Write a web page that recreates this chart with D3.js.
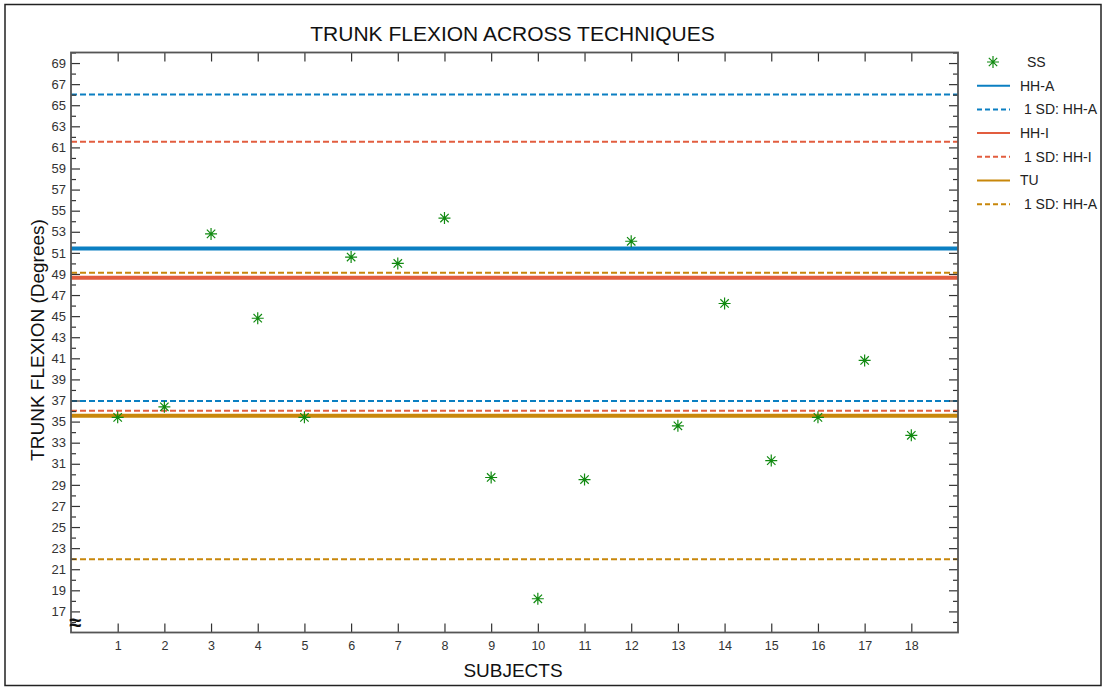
<!DOCTYPE html>
<html>
<head>
<meta charset="utf-8">
<script src="https://cdn.jsdelivr.net/npm/d3@7"></script>
<style>
  html, body { margin: 0; padding: 0; background: #fff; }
  svg { display: block; font-family: "Liberation Sans", Arial, sans-serif; }
  text { white-space: pre; }
</style>
</head>
<body>
<div id="chart"></div>
<script>
// subjects and the SS trunk flexion values (degrees)
const subjects = [1, 2, 3, 4, 5, 6, 7, 8, 9, 10, 11, 12, 13, 14, 15, 16, 17, 18];
const ssValues = [35.4, 36.4, 52.8, 44.8, 35.4, 50.6, 50.0, 54.3, 29.7, 18.2, 29.5, 52.1, 34.6, 46.2, 31.3, 35.4, 40.8, 33.7];

// technique means and +/- 1 SD bands
const techniques = ['HH-A', 'HH-I', 'TU'];
const techMeans = [51.42, 48.64, 35.55];
const techSdUpper = [66.02, 61.53, 49.11];
const techSdLower = [36.95, 36.03, 21.94];
const techColors = ['#0b7fc2', '#e25d3f', '#c8870b'];

const legendLabels = ['SS', 'HH-A', ' 1 SD: HH-A', 'HH-I', ' 1 SD: HH-I', 'TU', ' 1 SD: HH-A'];

const yMajorTicks = [17, 19, 21, 23, 25, 27, 29, 31, 33, 35, 37, 39, 41, 43, 45, 47, 49, 51, 53, 55, 57, 59, 61, 63, 65, 67, 69];
const yMinorTicks = [16, 18, 20, 22, 24, 26, 28, 30, 32, 34, 36, 38, 40, 42, 44, 46, 48, 50, 52, 54, 56, 58, 60, 62, 64, 66, 68, 70];

const width = 1107, height = 689;
const margin = { left: 71, right: 149, top: 52.5, bottom: 56.5 };
const plotW = width - margin.left - margin.right;
const plotH = height - margin.top - margin.bottom;

const svg = d3.select('#chart').append('svg')
  .attr('width', width)
  .attr('height', height);

// outer frame
svg.append('rect')
  .attr('x', 5).attr('y', 4.5)
  .attr('width', 1096).attr('height', 681)
  .attr('fill', 'none')
  .attr('stroke', '#222')
  .attr('stroke-width', 1.5);

const x = d3.scaleLinear().domain([0, 19]).range([0, plotW]);
const y = d3.scaleLinear().domain([15, 70]).range([plotH, 0]);

const g = svg.append('g')
  .attr('transform', `translate(${margin.left},${margin.top})`);

// SD dashed lines
const sdLines = [];
techniques.forEach((t, i) => {
  sdLines.push({ v: techSdUpper[i], c: techColors[i] });
  sdLines.push({ v: techSdLower[i], c: techColors[i] });
});
g.selectAll('.sd')
  .data(sdLines)
  .enter().append('line')
  .attr('class', 'sd')
  .attr('x1', x(0)).attr('x2', x(19))
  .attr('y1', d => y(d.v)).attr('y2', d => y(d.v))
  .attr('stroke', d => d.c)
  .attr('stroke-width', 2)
  .attr('stroke-dasharray', '6,3');

// mean lines
g.selectAll('.mean')
  .data(techniques)
  .enter().append('line')
  .attr('class', 'mean')
  .attr('x1', x(0)).attr('x2', x(19))
  .attr('y1', (d, i) => y(techMeans[i])).attr('y2', (d, i) => y(techMeans[i]))
  .attr('stroke', (d, i) => techColors[i])
  .attr('stroke-width', 4);

// axes
const axisColor = '#555';
function styleAxis(sel) {
  sel.select('.domain').remove();
  sel.attr('font-size', null).attr('font-family', null);
  sel.selectAll('.tick line').attr('stroke', '#333').attr('stroke-width', 1.2);
  sel.selectAll('.tick text').attr('fill', '#333');
}

g.append('g')
  .call(d3.axisLeft(y).tickValues(yMajorTicks).tickSizeInner(-9).tickSizeOuter(0).tickPadding(5))
  .call(styleAxis)
  .selectAll('text').style('font-size', '13px');
g.append('g')
  .call(d3.axisLeft(y).tickValues(yMinorTicks).tickSizeInner(-5).tickSizeOuter(0).tickFormat(''))
  .call(styleAxis);
g.append('g')
  .attr('transform', `translate(${plotW},0)`)
  .call(d3.axisRight(y).tickValues(yMajorTicks).tickSizeInner(-9).tickSizeOuter(0).tickFormat(''))
  .call(styleAxis);
g.append('g')
  .attr('transform', `translate(${plotW},0)`)
  .call(d3.axisRight(y).tickValues(yMinorTicks).tickSizeInner(-5).tickSizeOuter(0).tickFormat(''))
  .call(styleAxis);
g.append('g')
  .attr('transform', `translate(0,${plotH})`)
  .call(d3.axisBottom(x).tickValues(subjects).tickSizeInner(-9).tickSizeOuter(0).tickPadding(9))
  .call(styleAxis)
  .selectAll('text').style('font-size', '12.5px');
g.append('g')
  .call(d3.axisTop(x).tickValues(subjects).tickSizeInner(-9).tickSizeOuter(0).tickFormat(''))
  .call(styleAxis);

// plot frame
g.append('rect')
  .attr('width', plotW).attr('height', plotH)
  .attr('fill', 'none')
  .attr('stroke', axisColor)
  .attr('stroke-width', 1.8);

// axis break mark
g.append('text')
  .attr('x', 4).attr('y', y(15.95))
  .attr('dy', '0.35em')
  .attr('text-anchor', 'middle')
  .style('font-size', '22px')
  .style('font-weight', 'bold')
  .attr('fill', '#111')
  .text('≈');

// SS asterisks
const star = 'M-6,0H6M0,-6V6M-4.2,-4.2L4.2,4.2M-4.2,4.2L4.2,-4.2';
g.selectAll('.ss')
  .data(subjects)
  .enter().append('path')
  .attr('class', 'ss')
  .attr('transform', (d, i) => `translate(${x(d)},${y(ssValues[i])})`)
  .attr('d', star)
  .attr('fill', 'none')
  .attr('stroke', '#118a11')
  .attr('stroke-width', 1.2);

// titles
svg.append('text')
  .attr('x', 512.5).attr('y', 40.5)
  .attr('text-anchor', 'middle')
  .style('font-size', '21px')
  .attr('fill', '#111')
  .text('TRUNK FLEXION ACROSS TECHNIQUES');

svg.append('text')
  .attr('transform', 'translate(44,340) rotate(-90)')
  .attr('text-anchor', 'middle')
  .style('font-size', '19px')
  .attr('fill', '#111')
  .text('TRUNK FLEXION (Degrees)');

svg.append('text')
  .attr('x', 513).attr('y', 677)
  .attr('text-anchor', 'middle')
  .style('font-size', '19px')
  .attr('fill', '#111')
  .text('SUBJECTS');

// legend
const legend = svg.append('g').attr('transform', 'translate(977,62)');
const legendStep = 23.7;
const legendItems = legendLabels.map((label, i) => {
  if (i === 0) return { label, type: 'star' };
  const ti = Math.floor((i - 1) / 2);
  return { label, type: (i % 2 === 1) ? 'solid' : 'dash', color: techColors[ti] };
});
const li = legend.selectAll('.li')
  .data(legendItems)
  .enter().append('g')
  .attr('class', 'li')
  .attr('transform', (d, i) => `translate(0,${i * legendStep})`);
li.filter(d => d.type === 'star').append('path')
  .attr('transform', 'translate(16,0)')
  .attr('d', star)
  .attr('fill', 'none')
  .attr('stroke', '#118a11')
  .attr('stroke-width', 1.2);
li.filter(d => d.type !== 'star').append('line')
  .attr('x1', 0).attr('x2', 33)
  .attr('stroke', d => d.color)
  .attr('stroke-width', 2)
  .attr('stroke-dasharray', d => d.type === 'dash' ? '5,3' : null);
li.append('text')
  .attr('x', d => d.type === 'star' ? 50 : 43)
  .attr('dy', '0.35em')
  .style('font-size', '14px')
  .attr('fill', '#222')
  .text(d => d.label);
</script>
</body>
</html>
